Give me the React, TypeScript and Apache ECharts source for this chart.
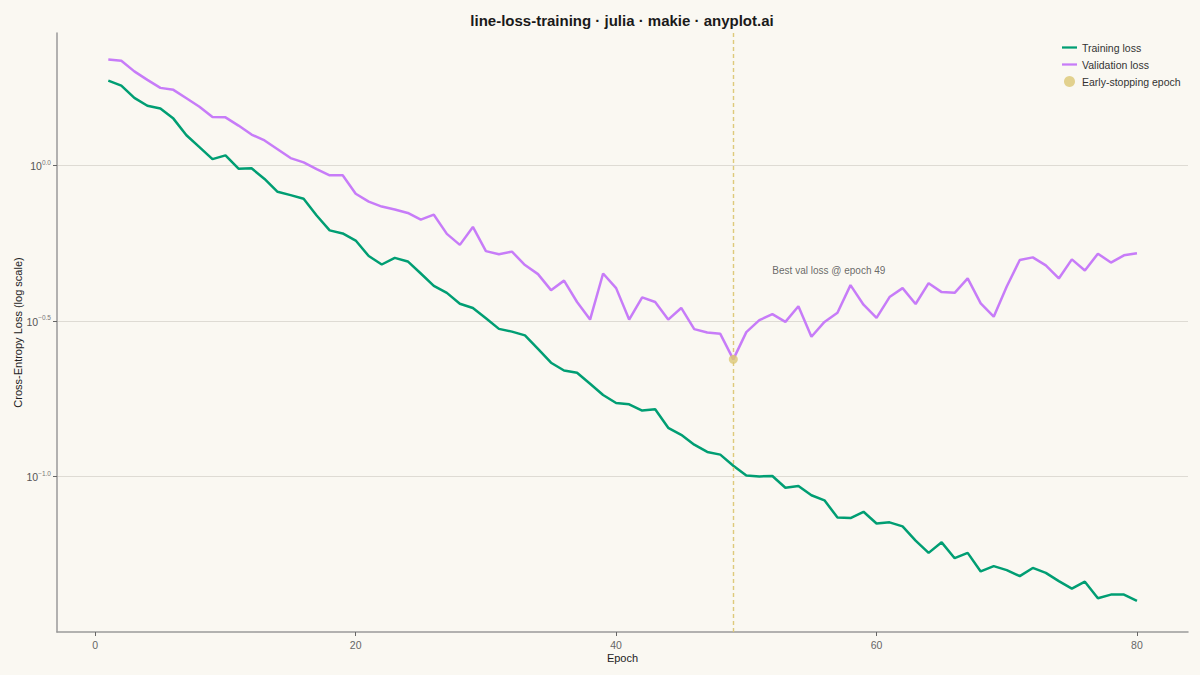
import React, { useEffect, useRef } from "react";
import * as echarts from "echarts";

const epochs: number[] = Array.from({ length: 80 }, (_, i) => i + 1);

const trainLoss: number[] = [
  1.872, 1.804, 1.648, 1.554, 1.523, 1.413, 1.249, 1.144, 1.047, 1.076,
  0.975, 0.978, 0.904, 0.822, 0.802, 0.781, 0.69, 0.618, 0.604, 0.573,
  0.511, 0.48, 0.504, 0.491, 0.449, 0.41, 0.389, 0.359, 0.348, 0.3225,
  0.298, 0.292, 0.284, 0.257, 0.232, 0.219, 0.2154, 0.1986, 0.1827, 0.1722,
  0.1706, 0.1629, 0.1644, 0.1433, 0.1361, 0.1265, 0.1199, 0.1175, 0.1082, 0.1007,
  0.1, 0.1003, 0.092, 0.0932, 0.087, 0.0838, 0.0738, 0.0735, 0.077, 0.0706,
  0.0712, 0.0691, 0.0622, 0.0568, 0.0614, 0.0546, 0.0568, 0.0495, 0.0515, 0.05,
  0.0478, 0.0508, 0.049, 0.0461, 0.0436, 0.0459, 0.0406, 0.0417, 0.0417, 0.0398,
];

const valLoss: number[] = [
  2.188, 2.168, 2.004, 1.882, 1.774, 1.748, 1.643, 1.543, 1.429, 1.426,
  1.342, 1.256, 1.202, 1.127, 1.055, 1.022, 0.973, 0.929, 0.929, 0.81,
  0.764, 0.737, 0.721, 0.703, 0.669, 0.694, 0.602, 0.555, 0.634, 0.53,
  0.518, 0.528, 0.478, 0.447, 0.397, 0.426, 0.3636, 0.3193, 0.449, 0.403,
  0.3193, 0.3764, 0.3636, 0.3193, 0.348, 0.2975, 0.29, 0.2873, 0.2379, 0.291,
  0.318, 0.3323, 0.3138, 0.3525, 0.2812, 0.3138, 0.336, 0.412, 0.3565, 0.3232,
  0.3772, 0.403, 0.3583, 0.418, 0.3913, 0.3893, 0.4329, 0.36, 0.3263, 0.408,
  0.496, 0.506, 0.477, 0.4329, 0.4985, 0.459, 0.52, 0.487, 0.5136, 0.522,
];

const xTicks: number[] = [0, 20, 40, 60, 80];
const yTickExps: number[] = [-1.0, -0.5, 0.0];

const bestEpoch = 49;
const annotationText = "Best val loss @ epoch 49";
const annotationPos: [number, number] = [52, 0.46];

const xMin = -2.94;
const xMax = 83.92;
const yMin = Math.pow(10, -1.5);
const yMax = Math.pow(10, 0.4253);

const GREEN = "#009E73";
const PURPLE = "#C77CF8";
const GOLD = "#DCC774";
const BG = "#FAF8F2";
const LINE_ICON = "path://M0,0 L20,0 L20,3 L0,3 Z";

const yTickValues = yTickExps.map((e) => Math.pow(10, e));

function fmtExp(v: number): string {
  const l = Math.log10(v);
  const r = Math.round(l * 2) / 2;
  if (Math.abs(l - r) > 1e-6) return "";
  if (r < -1.25) return "";
  const s = Math.abs(r).toFixed(1);
  return "{b|10}{s|" + (r < 0 ? "\u2212" : "") + s + "}";
}

export default function App() {
  const ref = useRef<HTMLDivElement>(null);
  useEffect(() => {
    if (!ref.current) return;
    const chart = echarts.init(ref.current, null, { renderer: "svg" });
    const trainData = epochs.map((e, i) => [e, trainLoss[i]]);
    const valData = epochs.map((e, i) => [e, valLoss[i]]);
    chart.setOption({
      animation: false,
      backgroundColor: BG,
      textStyle: { fontFamily: "Liberation Sans, Arial, sans-serif" },
      title: {
        text: "line-loss-training · julia · makie · anyplot.ai",
        left: 617,
        textAlign: "center",
        top: 8,
        textStyle: { fontSize: 15, fontWeight: "bold", color: "#1a1a1a" },
      },
      legend: {
        orient: "vertical",
        left: 1057,
        top: 37,
        itemGap: 6,
        itemWidth: 15,
        itemHeight: 11,
        symbolKeepAspect: true,
        textStyle: { fontSize: 10.5, color: "#333" },
        data: [
          { name: "Training loss", icon: LINE_ICON },
          { name: "Validation loss", icon: LINE_ICON },
          { name: "Early-stopping epoch", icon: "circle" },
        ],
      },
      grid: { left: 57, right: 12, top: 33, bottom: 43, containLabel: false, outerBoundsMode: "none" },
      xAxis: {
        type: "value",
        min: xMin,
        max: xMax,
        splitNumber: 5,
        name: "Epoch",
        nameLocation: "middle",
        nameGap: 20,
        nameMoveOverlap: false,
        nameTextStyle: { fontSize: 11, color: "#222" },
        axisLine: { show: true, onZero: false, lineStyle: { color: "#9a9a9a", width: 1.5 } },
        axisTick: { show: true, inside: false, length: 4, customValues: xTicks, lineStyle: { color: "#666", width: 1 } },
        axisLabel: {
          color: "#666",
          fontSize: 10.5,
          margin: 7,
          customValues: xTicks,
          formatter: (v: number) => String(v),
        },
        splitLine: { show: false },
      },
      yAxis: {
        type: "log",
        logBase: 10,
        min: yMin,
        max: yMax,
        interval: 0.5,
        name: "Cross-Entropy Loss (log scale)",
        nameLocation: "middle",
        nameGap: 34,
        nameMoveOverlap: false,
        nameTextStyle: { fontSize: 11, color: "#222" },
        axisLine: { show: true, onZero: false, lineStyle: { color: "#9a9a9a", width: 1.5 } },
        axisTick: { show: true, inside: false, length: 4, customValues: yTickValues, lineStyle: { color: "#666", width: 1 } },
        axisLabel: {
          color: "#555",
          fontSize: 10.5,
          margin: 6,
          customValues: yTickValues,
          formatter: (v: number) => fmtExp(v),
          rich: {
            b: { fontSize: 10.5, color: "#555", verticalAlign: "bottom" },
            s: { fontSize: 6.5, color: "#777", verticalAlign: "top", padding: [0, 0, 6, 0] },
          },
        },
        splitLine: {
          show: true,
          showMinLine: true,
          showMaxLine: true,
          lineStyle: { color: "#dedbd4", width: 1 },
        },
      },
      series: [
        {
          name: "Training loss",
          type: "line",
          data: trainData,
          symbol: "none",
          lineStyle: { color: GREEN, width: 2.5 },
          itemStyle: { color: GREEN },
          z: 3,
        },
        {
          name: "Validation loss",
          type: "line",
          data: valData,
          symbol: "none",
          lineStyle: { color: PURPLE, width: 2.5 },
          itemStyle: { color: PURPLE },
          z: 3,
          markLine: {
            silent: true,
            symbol: "none",
            label: { show: false },
            lineStyle: { color: GOLD, type: [4, 3], width: 1.4, opacity: 0.95 },
            data: [{ xAxis: bestEpoch }],
          },
        },
        {
          name: "Early-stopping epoch",
          type: "scatter",
          data: [[bestEpoch, valLoss[bestEpoch - 1]]],
          symbol: "circle",
          symbolSize: 9,
          itemStyle: { color: GOLD },
          z: 5,
        },
        {
          name: "annotation",
          type: "scatter",
          data: [annotationPos],
          symbolSize: 0,
          silent: true,
          label: {
            show: true,
            position: "right",
            distance: 0,
            formatter: annotationText,
            color: "#444",
            fontSize: 10,
          },
          z: 6,
        },
      ],
    });
    return () => chart.dispose();
  }, []);
  return <div ref={ref} style={{ width: 1200, height: 675, position: "absolute", left: 0, top: 0 }} />;
}
